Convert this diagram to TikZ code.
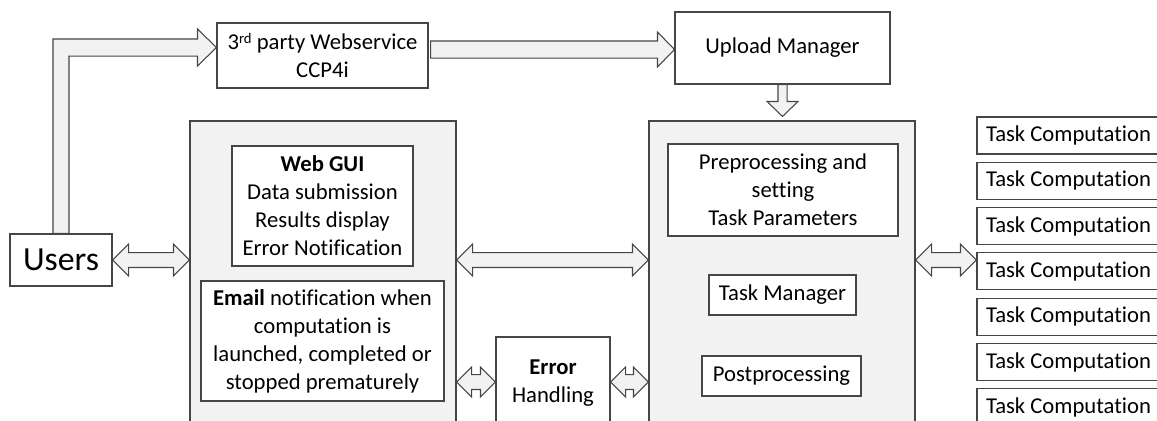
\documentclass[tikz,border=0pt]{standalone}
\usepackage{fontspec}
\setmainfont{Carlito}[Ligatures=NoCommon]
\usetikzlibrary{calc}
\definecolor{edge}{RGB}{70,70,70}
\definecolor{panelfill}{RGB}{242,242,242}
\newcommand\dblarrowH[5]{%
  \draw[arr] let \p1=(#1), \p2=(#2) in
    (\x1,\y1) -- (\x1+#5,\y1+#4) -- (\x1+#5,\y1+#3) -- (\x2-#5,\y1+#3) -- (\x2-#5,\y1+#4)
    -- (\x2,\y1) -- (\x2-#5,\y1-#4) -- (\x2-#5,\y1-#3) -- (\x1+#5,\y1-#3) -- (\x1+#5,\y1-#4) -- cycle;}
\begin{document}
\begin{tikzpicture}[x=0.75pt,y=-0.75pt,
  every node/.style={font=\fontsize{17}{21}\selectfont, inner sep=0pt, align=center},
  box/.style={draw=edge, line width=0.8pt, fill=white},
  panel/.style={draw=edge, line width=0.8pt, fill=panelfill},
  arr/.style={draw=edge, line width=0.8pt, fill=panelfill, line join=miter},
  taskbox/.style={box, minimum width=183*0.75pt, minimum height=37*0.75pt}]
\useasboundingbox (0,0) rectangle (1157,421);
\clip (0,0) rectangle (1157,421);
% panels
\node[panel, minimum width=266*0.75pt, minimum height=339*0.75pt] (lp) at (323,290.5) {};
\node[panel, minimum width=266*0.75pt, minimum height=339*0.75pt] (rp) at (782,290.5) {};
% nodes
\node[box, minimum width=102*0.75pt, minimum height=52*0.75pt, font=\fontsize{25.3}{30}\selectfont] (users) at (61,260) {Users};
\node[box, minimum width=211*0.75pt, minimum height=65*0.75pt] (third) at (322.5,55.5) {3{\fontsize{11}{11}\selectfont\raisebox{0.45em}{rd}} party Webservice\\CCP4i};
\node[box, minimum width=215*0.75pt, minimum height=72*0.75pt] (upload) at (782.5,48) {Upload Manager};
\node[box, minimum width=181*0.75pt, minimum height=120*0.75pt] (webgui) at (322.5,206) {\textbf{Web GUI}\\Data submission\\Results display\\Error Notification};
\node[box, minimum width=243*0.75pt, minimum height=120*0.75pt] (email) at (322.5,341) {\textbf{Email} notification when\\computation is\\launched, completed or\\stopped prematurely};
\node[box, minimum width=114*0.75pt, minimum height=93*0.75pt] (error) at (553,383.5) {\textbf{Error}\\Handling};
\node[box, minimum width=230*0.75pt, minimum height=92*0.75pt] (pre) at (783,190) {Preprocessing and\\setting\\Task Parameters};
\node[box, minimum width=147*0.75pt, minimum height=40*0.75pt] (tm) at (782.5,295) {Task Manager};
\node[box, minimum width=159*0.75pt, minimum height=40*0.75pt] (post) at (781.5,376) {Postprocessing};
\foreach \i in {1,...,7} {
  \node[taskbox] (task\i) at (1068.5,{135.5+45.3*(\i-1)}) {Task Computation};
}
% L-shaped arrow Users -> 3rd party
\coordinate (lc) at (users.north |- 0,47.5);
\draw[arr] let \p1=(users.north), \p2=(third.west), \p3=(lc) in
  (\x1-6pt,\y1) -- (\x1-6pt,\y3+6.4pt) -- (\x2-14.25pt,\y3+6.4pt) -- (\x2-14.25pt,\y3+13.9pt)
  -- (\x2,\y3) -- (\x2-14.25pt,\y3-13.9pt) -- (\x2-14.25pt,\y3-6.4pt) -- (\x1+6pt,\y3-6.4pt)
  -- (\x1+6pt,\y1) -- cycle;
% 3rd party -> Upload
\coordinate (a1) at ($(third.east |- upload.west)+(2,1.5)$);
\coordinate (a2) at ($(upload.west)+(0,1.5)$);
\draw[arr] let \p1=(a1), \p2=(a2) in
  (\x1,\y1+6.4pt) -- (\x2-12.75pt,\y1+6.4pt) -- (\x2-12.75pt,\y1+13.1pt) -- (\x2,\y1)
  -- (\x2-12.75pt,\y1-13.1pt) -- (\x2-12.75pt,\y1-6.4pt) -- (\x1,\y1-6.4pt) -- cycle;
% Upload -> right panel
\coordinate (dtip) at ($(rp.north)+(0.5,-4)$);
\draw[arr] let \p1=(upload.south), \p2=(dtip) in
  (\x1-3.4pt,\y1) -- (\x1-3.4pt,\y2+11.25pt) -- (\x1-11.6pt,\y2+11.25pt) -- (\x1,\y2)
  -- (\x1+11.6pt,\y2+11.25pt) -- (\x1+3.4pt,\y2+11.25pt) -- (\x1+3.4pt,\y1) -- cycle;
% double arrows
\dblarrowH{users.east}{users.east -| lp.west}{5.6pt}{12pt}{12pt}
\dblarrowH{lp.east |- users.east}{rp.west |- users.east}{5.6pt}{12pt}{12pt}
\dblarrowH{rp.east |- users.east}{task4.west |- users.east}{5.6pt}{12pt}{12pt}
\coordinate (ey) at (0,382);
\dblarrowH{lp.east |- ey}{error.west |- ey}{5.6pt}{11.25pt}{11.25pt}
\dblarrowH{error.east |- ey}{rp.west |- ey}{5.6pt}{11.25pt}{11.25pt}
\end{tikzpicture}
\end{document}
